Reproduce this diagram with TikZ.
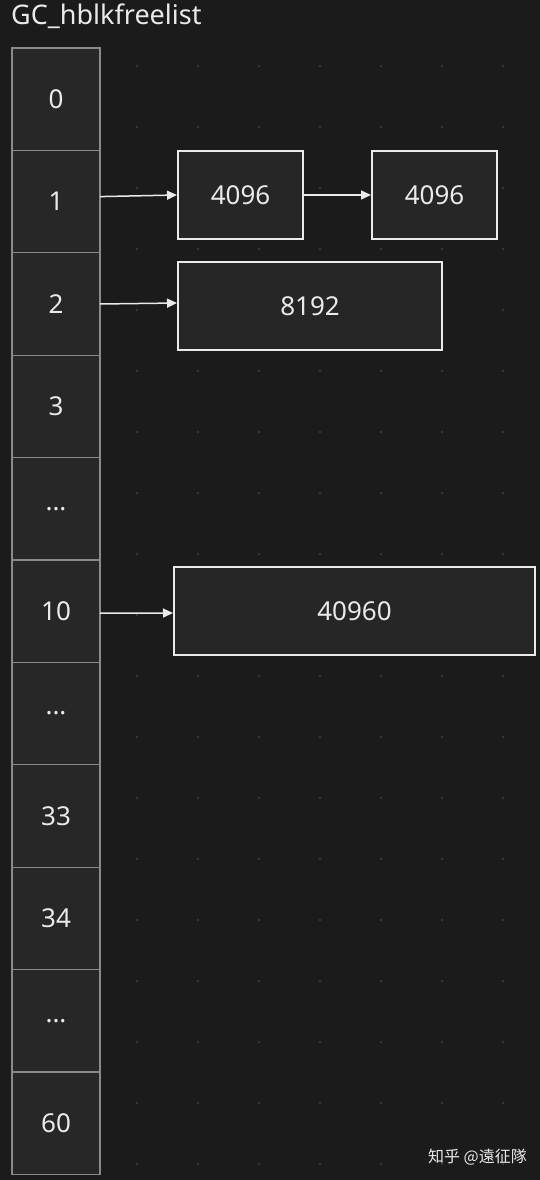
\documentclass[tikz,border=0pt]{standalone}
\usepackage{fontspec}
\setmainfont{Noto Sans}
\newfontfamily\cjkfont{Noto Sans CJK SC}
\usetikzlibrary{arrows.meta,positioning}

\definecolor{bgc}{HTML}{1B1B1B}
\definecolor{cellc}{HTML}{272727}
\definecolor{cellline}{HTML}{8A8A8A}
\definecolor{blkc}{HTML}{262626}
\definecolor{txtc}{HTML}{EAEAEA}
\definecolor{dotc}{HTML}{383838}

\begin{document}
\begin{tikzpicture}[
    x=1pt, y=-1pt,
    node distance=0pt,
    cell/.style={draw=cellline, line width=1.2pt, fill=cellc, minimum width=88pt, minimum height=102.4pt, inner sep=0pt, outer sep=0pt, text=txtc, font=\fontsize{26}{30}\selectfont},
    blk/.style={draw=txtc, line width=2pt, fill=blkc, minimum height=88pt, inner sep=0pt, text=txtc, font=\fontsize{26}{30}\selectfont},
    arr/.style={-{Triangle[length=10pt, width=9pt]}, draw=txtc, fill=txtc, line width=1.5pt}
  ]
    \fill[bgc] (0,0) rectangle (540,1180);
    \useasboundingbox (0,0) rectangle (540,1180);

    % faint dot grid
    \foreach \gx in {137,198,259,320,381,442,503}
      \foreach \gy in {66,127,188,249,310,371,432,493,554,615,676,737,798,859,920,981,1042,1103,1164}
        \fill[dotc] (\gx,\gy) circle (1.3pt);

    \node[anchor=base west, text=txtc, font=\fontsize{27}{30}\selectfont, inner sep=0pt] (title) at (11,25) {GC\_hblkfreelist};

    \node[cell] (c0) at (56,99.2) {0};
    \node[cell, below=of c0] (c1) {1};
    \node[cell, below=of c1] (c2) {2};
    \node[cell, below=of c2] (c3) {3};
    \node[cell, below=of c3] (d1) {...};
    \node[cell, below=of d1] (c10) {10};
    \node[cell, below=of c10] (d2) {...};
    \node[cell, below=of d2] (c33) {33};
    \node[cell, below=of c33] (c34) {34};
    \node[cell, below=of c34] (d3) {...};
    \node[cell, below=of d3] (c60) {60};

    \node[blk, minimum width=125pt] (b4096a) at (240.5,195) {4096};
    \node[blk, minimum width=125pt] (b4096b) at (434.5,195) {4096};
    \node[blk, minimum width=264pt] (b8192) at (310,306) {8192};
    \node[blk, minimum width=361pt] (b40960) at (354.5,611) {40960};

    \node[anchor=base east, text=txtc, font=\cjkfont\fontsize{16}{18}\selectfont, inner sep=0pt] (mark) at (527,1162) {知乎 @遠征隊};

    \draw[arr] ([yshift=5pt]c1.east) -- (b4096a.west);
    \draw[arr] (b4096a) -- (b4096b);
    \draw[arr] (c2.east) -- ([yshift=3pt]b8192.west);
    \draw[arr] ([yshift=-2pt]c10.east) -- ([yshift=-2pt]b40960.west);
  \end{tikzpicture}
\end{document}
